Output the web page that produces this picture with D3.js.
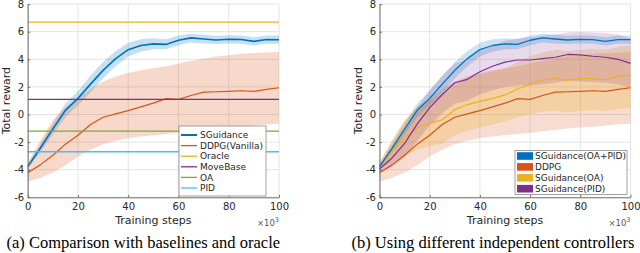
<!DOCTYPE html>
<html>
<head>
<meta charset="utf-8">
<script src="https://cdn.jsdelivr.net/npm/d3@7"></script>
<style>
	body { margin: 0; background: #fff; }
	svg text { font-family: "DejaVu Sans", sans-serif; fill: #262626; }
	svg .caption { font-family: "Liberation Serif", serif; font-size: 16.5px; fill: #000; }
</style>
</head>
<body>
<div id="chart"></div>
<script>
// training steps (x1000)
const steps = [0, 5, 10, 15, 20, 25, 30, 35, 40, 45, 50, 55, 60, 65, 70, 75, 80, 85, 90, 95, 100];

// SGuidance / SGuidance(OA+PID)
const sguidance = [-3.78, -2.45, -1.05, 0.3, 1.17, 2.2, 3.2, 4.05, 4.7, 5.0, 5.12, 5.08, 5.38, 5.55, 5.47, 5.4, 5.45, 5.43, 5.3, 5.43, 5.42];
const sguidanceLo = [-3.95, -2.75, -1.45, -0.2, 0.65, 1.6, 2.6, 3.5, 4.2, 4.55, 4.72, 4.72, 5.02, 5.22, 5.15, 5.1, 5.15, 5.12, 5.0, 5.13, 5.12];
const sguidanceHi = [-3.6, -2.15, -0.65, 0.8, 1.7, 2.8, 3.8, 4.6, 5.2, 5.45, 5.52, 5.45, 5.72, 5.85, 5.78, 5.7, 5.75, 5.73, 5.6, 5.73, 5.72];

// DDPG (vanilla)
const ddpg = [-4.22, -3.65, -2.95, -2.15, -1.5, -0.72, -0.2, 0.05, 0.28, 0.55, 0.82, 1.15, 1.1, 1.38, 1.62, 1.65, 1.68, 1.72, 1.68, 1.82, 1.94];
const ddpgLo = [-4.87, -4.6, -4.2, -3.7, -3.05, -2.55, -2.15, -1.9, -1.72, -1.6, -1.5, -1.42, -1.32, -1.22, -1.12, -1.02, -0.95, -0.88, -0.8, -0.72, -0.66];
const ddpgHi = [-3.5, -1.9, -0.4, 0.5, 1.2, 1.85, 2.4, 2.75, 3.0, 3.2, 3.35, 3.5, 3.7, 3.88, 4.05, 4.2, 4.3, 4.4, 4.45, 4.5, 4.53];

// SGuidance(OA)
const sgOA = [-3.7, -2.7, -1.72, -0.95, -0.62, -0.38, 0.35, 0.72, 0.95, 1.15, 1.42, 1.85, 2.2, 2.5, 2.62, 2.48, 2.6, 2.6, 2.52, 2.78, 2.85];
const sgOALo = [-3.95, -3.5, -3.0, -2.55, -2.3, -2.1, -1.5, -1.2, -0.95, -0.75, -0.5, -0.2, 0.05, 0.2, 0.25, 0.15, 0.25, 0.3, 0.25, 0.4, 0.45];
const sgOAHi = [-3.45, -1.9, -0.5, 0.55, 1.1, 1.4, 2.1, 2.6, 2.9, 3.1, 3.35, 3.8, 4.2, 4.5, 4.7, 4.6, 4.7, 4.75, 4.7, 4.9, 5.0];

// SGuidance(PID)
const sgPID = [-3.95, -3.15, -2.1, -0.7, 0.5, 1.45, 2.3, 2.55, 3.1, 3.5, 3.8, 3.95, 3.95, 4.05, 4.15, 4.35, 4.32, 4.22, 4.15, 4.0, 3.7];
const sgPIDLo = [-4.2, -3.8, -3.1, -1.9, -0.8, 0.1, 0.8, 1.0, 1.45, 1.75, 2.0, 2.1, 2.1, 2.2, 2.3, 2.45, 2.4, 2.35, 2.3, 2.2, 1.95];
const sgPIDHi = [-3.7, -2.5, -1.1, 0.5, 1.8, 2.8, 3.7, 4.0, 4.6, 5.0, 5.35, 5.5, 5.6, 5.7, 5.8, 5.95, 5.98, 5.95, 5.9, 5.8, 5.5];

// constant baselines (panel a)
const baselineNames = ["Oracle", "MoveBase", "OA", "PID"];
const baselineValues = [6.7, 1.1, -1.2, -2.7];

const xTicks = [0, 20, 40, 60, 80, 100];
const yTicks = [-6, -4, -2, 0, 2, 4, 6, 8];
const legendA = ["SGuidance", "DDPG(Vanilla)", "Oracle", "MoveBase", "OA", "PID"];
const legendB = ["SGuidance(OA+PID)", "DDPG", "SGuidance(OA)", "SGuidance(PID)"];

const blue = "#0072BD", orange = "#D95319", yellow = "#EDB120", purple = "#7E2F8E", green = "#77AC30", cyan = "#4DBEEE";

const svg = d3.select("#chart").append("svg")
	.attr("width", 640)
	.attr("height", 253);

const y = d3.scaleLinear().domain([-6, 8]).range([197.3, 4.1]);
const xA = d3.scaleLinear().domain([0, 100]).range([27.7, 279]);
const xB = d3.scaleLinear().domain([0, 100]).range([379.5, 630.5]);

function grid(x) {
	const g = svg.append("g").attr("stroke", "#e4e4e4").attr("stroke-width", 1);
	g.selectAll(".vg").data(xTicks).join("line")
		.attr("x1", d => x(d)).attr("x2", d => x(d))
		.attr("y1", y(-6)).attr("y2", y(8));
	g.selectAll(".hg").data(yTicks).join("line")
		.attr("x1", x(0)).attr("x2", x(100))
		.attr("y1", d => y(d)).attr("y2", d => y(d));
}

function band(x, lo, hi, color, op) {
	const area = d3.area()
		.x((d, i) => x(steps[i]))
		.y0((d, i) => y(lo[i]))
		.y1((d, i) => y(hi[i]));
	svg.append("path").datum(steps)
		.attr("d", area)
		.attr("fill", color)
		.attr("fill-opacity", op);
}

function line(x, vals, color, w) {
	const ln = d3.line().x((d, i) => x(steps[i])).y(d => y(d));
	svg.append("path").datum(vals)
		.attr("d", ln)
		.attr("fill", "none")
		.attr("stroke", color)
		.attr("stroke-width", w)
		.attr("stroke-linejoin", "round");
}

function axes(x, titleX, caption, capX) {
	const bottom = svg.append("g")
		.attr("transform", `translate(0,${y(-6)})`)
		.call(d3.axisBottom(x).tickValues(xTicks).tickSizeInner(-2.5).tickSizeOuter(0).tickPadding(6).tickFormat(d => String(d)));
	const left = svg.append("g")
		.attr("transform", `translate(${x(0)},0)`)
		.call(d3.axisLeft(y).tickValues(yTicks).tickSizeInner(-2.5).tickSizeOuter(0).tickPadding(3.5).tickFormat(d => String(d)));
	[bottom, left].forEach(a => {
		a.attr("font-size", 10).attr("font-family", null);
		a.select(".domain").attr("stroke", "#707070");
		a.selectAll(".tick line").attr("stroke", "#707070");
	});

	const cx = (x(0) + x(100)) / 2;
	svg.append("text")
		.attr("x", cx).attr("y", 223.5)
		.attr("text-anchor", "middle")
		.attr("font-size", 11)
		.text("Training steps");
	const mult = svg.append("text")
		.attr("x", x(100)).attr("y", 226)
		.attr("text-anchor", "end")
		.attr("font-size", 8.5)
		.style("fill", "#555");
	mult.append("tspan").text("×10");
	mult.append("tspan").attr("dy", -4).attr("font-size", 6.5).text("3");

	svg.append("text")
		.attr("transform", `translate(${titleX},${(y(-6) + y(8)) / 2}) rotate(-90)`)
		.attr("text-anchor", "middle")
		.attr("font-size", 11)
		.text("Total reward");

	svg.append("text")
		.attr("class", "caption")
		.attr("x", capX).attr("y", 247.5)
		.text(caption);
}

// ---- panel (a)
grid(xA);
band(xA, sguidanceLo, sguidanceHi, blue, 0.22);
band(xA, ddpgLo, ddpgHi, orange, 0.22);
line(xA, sguidance, blue, 1.6);
line(xA, ddpg, orange, 1.2);
const hColors = [yellow, purple, green, cyan];
svg.append("g").selectAll("line").data(baselineValues).join("line")
	.attr("x1", xA(0)).attr("x2", xA(100))
	.attr("y1", d => y(d)).attr("y2", d => y(d))
	.attr("stroke", (d, i) => hColors[i])
	.attr("stroke-width", 1.3);
axes(xA, 10, "(a) Comparison with baselines and oracle", 6.5);

// legend (a)
const legAColors = [blue, orange, yellow, purple, green, cyan];
const la = svg.append("g");
la.append("rect").attr("x", 179).attr("y", 126).attr("width", 87).attr("height", 70)
	.attr("fill", "#fff").attr("stroke", "#8a8a8a").attr("stroke-width", 0.8);
const laRows = la.selectAll(".row").data(legendA).join("g")
	.attr("transform", (d, i) => `translate(0,${135 + i * 10.6})`);
laRows.append("line").attr("x1", 181).attr("x2", 197)
	.attr("stroke", (d, i) => legAColors[i])
	.attr("stroke-width", (d, i) => i == 0 ? 2 : 1.3);
laRows.append("text").attr("x", 200).attr("dy", "0.35em")
	.attr("font-size", 9).text(d => d);

// ---- panel (b)
grid(xB);
band(xB, ddpgLo, ddpgHi, orange, 0.2);
band(xB, sgOALo, sgOAHi, yellow, 0.25);
band(xB, sgPIDLo, sgPIDHi, purple, 0.18);
band(xB, sguidanceLo, sguidanceHi, blue, 0.2);
line(xB, ddpg, orange, 1.2);
line(xB, sgOA, yellow, 1.2);
line(xB, sguidance, blue, 1.3);
line(xB, sgPID, purple, 1.2);
axes(xB, 362, "(b) Using different independent controllers", 351.5);

// legend (b)
const legBColors = [blue, orange, yellow, purple];
const lb = svg.append("g");
lb.append("rect").attr("x", 515).attr("y", 150.5).attr("width", 112).attr("height", 44)
	.attr("fill", "#fff").attr("stroke", "#8a8a8a").attr("stroke-width", 0.8);
const lbRows = lb.selectAll(".row").data(legendB).join("g")
	.attr("transform", (d, i) => `translate(0,${156 + i * 10.9})`);
lbRows.append("rect").attr("x", 517).attr("y", -3.8).attr("width", 16).attr("height", 7.6)
	.attr("fill", (d, i) => legBColors[i]);
lbRows.append("text").attr("x", 535).attr("dy", "0.35em")
	.attr("font-size", 9).text(d => d);
</script>
</body>
</html>
